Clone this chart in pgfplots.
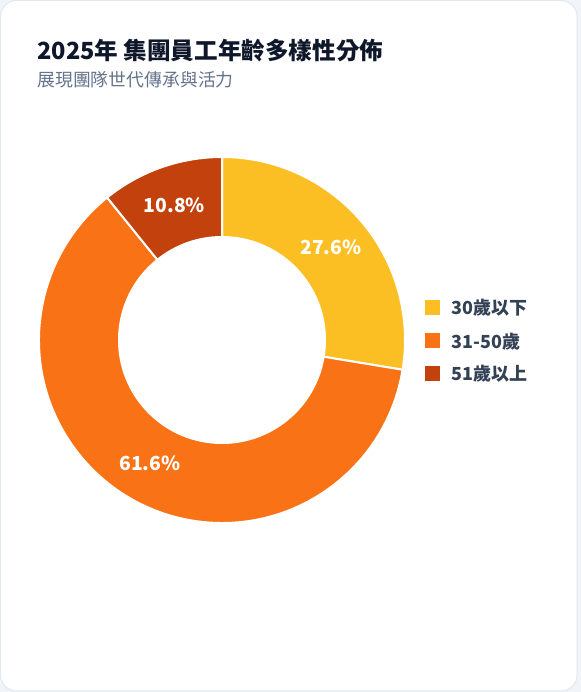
\documentclass[border=0pt]{standalone}
\usepackage{fontspec}
\setmainfont{Noto Sans CJK TC}
\usepackage{pgfplots}
\usepackage{pgfplotstable}
\pgfplotsset{compat=1.18}

\definecolor{young}{HTML}{FBBF24}
\definecolor{middle}{HTML}{F97316}
\definecolor{senior}{HTML}{C2410C}
\definecolor{titlec}{HTML}{0F172A}
\definecolor{subc}{HTML}{64748B}
\definecolor{legc}{HTML}{334155}
\definecolor{pagebg}{HTML}{F1F5F9}
\definecolor{cardline}{HTML}{E2E8F0}

% share of employees per age group (%)
\pgfplotstableread{
group share
young 27.6
middle 61.6
senior 10.8
}\agedata

\pgfplotstablegetelem{0}{share}\of\agedata \let\shareA\pgfplotsretval
\pgfplotstablegetelem{1}{share}\of\agedata \let\shareB\pgfplotsretval
\pgfplotstablegetelem{2}{share}\of\agedata \let\shareC\pgfplotsretval

% angles, clockwise from 12 o'clock
\pgfmathsetmacro\angA{90}
\pgfmathsetmacro\angB{\angA-3.6*\shareA}
\pgfmathsetmacro\angC{\angB-3.6*\shareB}
\pgfmathsetmacro\angD{\angC-3.6*\shareC}
\pgfmathsetmacro\midA{(\angA+\angB)/2}
\pgfmathsetmacro\midB{(\angB+\angC)/2}
\pgfmathsetmacro\midC{(\angC+\angD)/2}

% donut centre (axis units = px) and radii
\def\cx{222}
\def\cy{352}
\def\rout{137.25pt}
\def\rin{77.25pt}
\def\rlab{107.25pt}

\newcommand{\slice}[3]{%
  \fill[#3, draw=white, line width=1.5pt, line join=round]
    ([shift={(#1:\rout)}]axis cs:\cx,\cy)
    arc[start angle=#1, end angle=#2, radius=\rout]
    -- ([shift={(#2:\rin)}]axis cs:\cx,\cy)
    arc[start angle=#2, end angle=#1, radius=\rin] -- cycle;}

\newcommand{\slicelabel}[2]{%
  \node[text=white, inner sep=0pt, font=\bfseries\fontsize{14.5}{16}\selectfont]
    at ([shift={(#1:\rlab)}]axis cs:\cx,\cy)
    {\pgfmathprintnumber[fixed, precision=1, fixed zerofill,
       assume math mode=true]{#2}\%};}

\newcommand{\legendrow}[3]{% y (image px), colour, text
  \fill[#2] (axis cs:425,{692-#1-7.5}) rectangle (axis cs:440,{692-#1+7.5});
  \node[anchor=base west, inner sep=0pt, text=legc,
        font=\bfseries\fontsize{13.5}{15}\selectfont]
    at (axis cs:451,{692-#1-7.5}) {#3};}

\begin{document}
\begin{tikzpicture}
\begin{axis}[
  x=0.75pt, y=0.75pt,
  xmin=0, xmax=581, ymin=0, ymax=692,
  hide axis, clip=false,
]
% page and card
\fill[pagebg] (axis cs:0,0) rectangle (axis cs:581,692);
\filldraw[fill=white, draw=cardline, line width=0.75pt, rounded corners=12pt]
  (axis cs:0.5,1) rectangle (axis cs:577,691.5);

% title and subtitle
\node[anchor=base west, inner sep=0pt, text=titlec,
      font=\bfseries\fontsize{17.7}{20}\selectfont]
  at (axis cs:37,632) {2025年 集團員工年齡多樣性分佈};
\node[anchor=base west, inner sep=0pt, text=subc,
      font=\fontsize{13.4}{15}\selectfont]
  at (axis cs:37,605) {展現團隊世代傳承與活力};

% donut slices
\slice{\angA}{\angB}{young}
\slice{\angB}{\angC}{middle}
\slice{\angC}{\angD}{senior}

\slicelabel{\midA}{\shareA}
\slicelabel{\midB}{\shareB}
\slicelabel{\midC}{\shareC}

% legend
\legendrow{307.5}{young}{30歲以下}
\legendrow{341}{middle}{31-50歲}
\legendrow{373.5}{senior}{51歲以上}
\end{axis}
\end{tikzpicture}
\end{document}
